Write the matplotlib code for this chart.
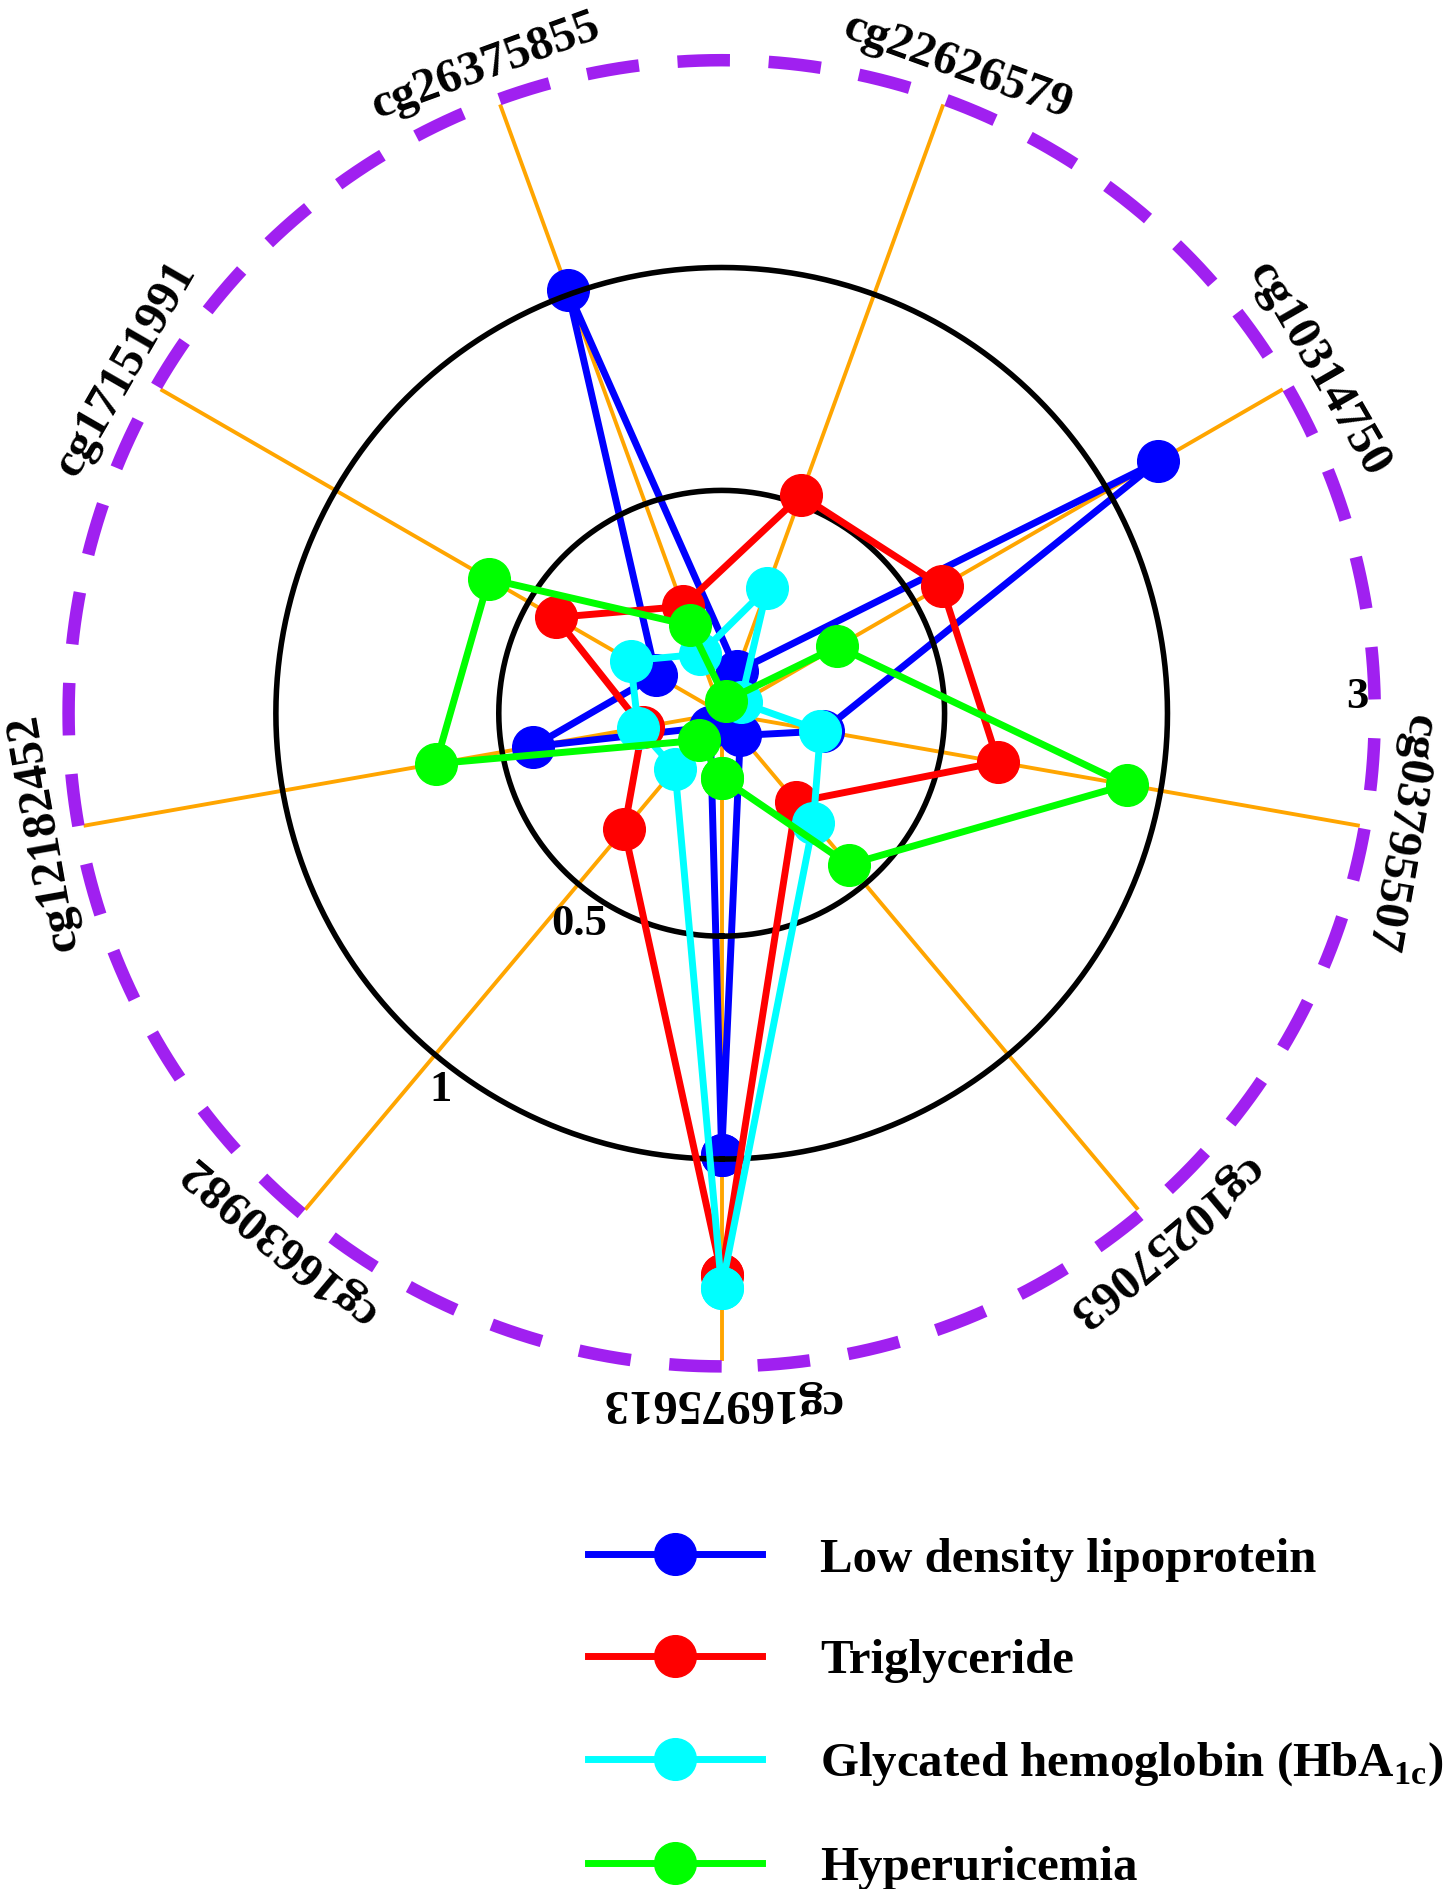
import numpy as np
import matplotlib
matplotlib.use('Agg')
import matplotlib.pyplot as plt

plt.rcParams['font.family'] = 'Liberation Serif'
plt.rcParams['font.weight'] = 'bold'
plt.rcParams['mathtext.fontset'] = 'custom'
plt.rcParams['mathtext.rm'] = 'Liberation Serif:bold'

# CpG sites, clockwise starting at the bottom spoke
sites = ['cg16975613', 'cg16630982', 'cg12182452', 'cg17151991', 'cg26375855',
         'cg22626579', 'cg10314750', 'cg03795507', 'cg10257063']

# values (inner ring = 0.5, outer ring = 1)
ldl = [0.99, 0.04, 0.43, 0.17, 1.01, 0.10, 1.13, 0.23, 0.065]
tg = [1.26, 0.34, 0.18, 0.43, 0.255, 0.52, 0.57, 0.63, 0.26]
hba1c = [1.29, 0.163, 0.19, 0.236, 0.141, 0.30, 0.049, 0.225, 0.32]
hua = [0.145, 0.079, 0.651, 0.603, 0.21, 0.03, 0.30, 0.923, 0.443]

names = ['Low density lipoprotein', 'Triglyceride',
         'Glycated hemoglobin (HbA$_{\\mathrm{1c}}$)', 'Hyperuricemia']
colors = ['#0000FF', '#FF0000', '#00FFFF', '#00FF00']

rings = [0.5, 1.0]
ring_labels = ['0.5', '1']
outer_ring = 1.465
outer_label = '3'
spoke_len = 1.449

fig = plt.figure(figsize=(14.53, 18.89), dpi=100)
ax = fig.add_axes([0.00578, 0.2448, 0.9818, 0.7552], projection='polar')
ax.set_theta_zero_location('S')
ax.set_theta_direction(-1)
ax.set_ylim(0, 1.6)
ax.set_xticks([])
ax.set_yticks([])
ax.grid(False)
ax.spines['polar'].set_visible(False)

theta = np.deg2rad(np.arange(len(sites)) * 40)
circ = np.linspace(0, 2 * np.pi, 721)

# spokes
for t in theta:
    ax.plot([t, t], [0, spoke_len], color='#FFA500', lw=2.8, zorder=1)

# dashed purple ring
ax.plot(circ, np.full_like(circ, outer_ring), color='#A020F0', lw=9,
        ls=(0, (4.2, 3.1)), dash_capstyle='butt', zorder=1)

# black rings
for r in rings:
    ax.plot(circ, np.full_like(circ, r), color='k', lw=4, zorder=3)

# series
tt = np.append(theta, theta[0])
zs = [2, 4, 5, 6]
for vals, c, lab, z in zip([ldl, tg, hba1c, hua], colors, names, zs):
    vv = np.append(vals, vals[0])
    ax.plot(tt, vv, '-o', color=c, lw=5, ms=30, mec=c, label=lab, zorder=z)

# site labels, tangential
for t, s in zip(theta, sites):
    rot = 180 - np.rad2deg(t)
    ax.text(t, 1.545, s, rotation=rot, rotation_mode='anchor', ha='center',
            va='center', fontsize=35, fontweight='bold')

# ring labels
ax.text(np.deg2rad(34), 0.57, ring_labels[0], ha='center', va='center',
        fontsize=32, fontweight='bold')
ax.text(np.deg2rad(36.7), 1.054, ring_labels[1], ha='center', va='center',
        fontsize=32, fontweight='bold')
ax.text(np.deg2rad(268.5), 1.427, outer_label, ha='center', va='center',
        fontsize=32, fontweight='bold')

h, l = ax.get_legend_handles_labels()
fig.legend(h, l, loc='center left', bbox_to_anchor=(0.405, 0.0928),
           frameon=False, fontsize=35.2, handlelength=3.55, handletextpad=1.19,
           labelspacing=1.175, borderpad=0, borderaxespad=0)

fig.savefig('out.png', dpi=100)
